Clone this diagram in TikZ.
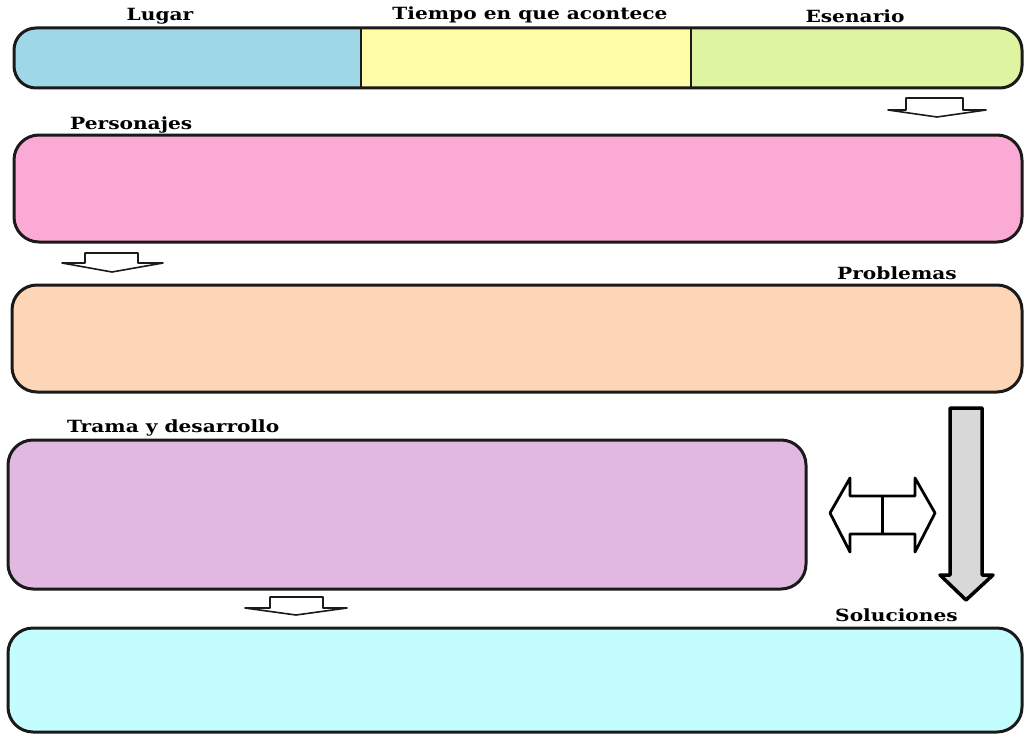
\documentclass[tikz,border=0pt]{standalone}
\usepackage{fontspec}
\usepackage{graphicx}
\newfontfamily\lblfont{DejaVu Serif}[BoldFont={DejaVu Serif Bold}]
\definecolor{cblue}{HTML}{9ED8E8}
\definecolor{cyel}{HTML}{FFFCA8}
\definecolor{cgreen}{HTML}{DFF4A0}
\definecolor{cpink}{HTML}{FBAAD6}
\definecolor{cpeach}{HTML}{FDD6B8}
\definecolor{cpurple}{HTML}{E0B8E0}
\definecolor{ccyan}{HTML}{C3FDFD}
\definecolor{cgrey}{HTML}{D8D8D8}
\definecolor{cline}{HTML}{1A1A1A}
\newcommand{\lbltext}[1]{\scalebox{1.2}[1]{\fontsize{16.8}{19}\lblfont\bfseries #1}}
\begin{document}
\begin{tikzpicture}[x=1pt,y=-1pt,
  lbl/.style={inner sep=0pt},
  bigbox/.style={draw=cline, line width=3pt, rounded corners=25pt, inner sep=0pt},
  smallarrow/.style={draw=cline, line width=1.6pt, fill=white, line join=round},
  bigarrow/.style={draw=black, line width=3.5pt, line join=round}]
\useasboundingbox (0,0) rectangle (1027,733);
\fill[white] (0,0) rectangle (1027,733);
% top bar
\begin{scope}
\clip[rounded corners=22pt] (14,28) rectangle (1022,88);
\fill[cblue] (14,28) rectangle (361,88);
\fill[cyel] (361,28) rectangle (691,88);
\fill[cgreen] (691,28) rectangle (1022,88);
\end{scope}
\draw[draw=cline, line width=3pt, rounded corners=22pt] (14,28) rectangle (1022,88);
\coordinate (d1t) at (361,28); \coordinate (d1b) at (361,88);
\coordinate (d2t) at (691,28); \coordinate (d2b) at (691,88);
\draw[cline, line width=2.8pt] (d1t) -- (d1b);
\draw[cline, line width=2.8pt] (d2t) -- (d2b);
\node[lbl] (lugar) at (160,16) {\lbltext{Lugar}};
\node[lbl] (tiempo) at (530,15) {\lbltext{Tiempo en que acontece}};
\node[lbl] (esc) at (855,16) {\lbltext{Esenario}};
% boxes
\node[bigbox, fill=cpink, minimum width=1008pt, minimum height=107pt] (pers) at (518,188.5) {};
\node[lbl, anchor=west] (lpers) at (70,125) {\lbltext{Personajes}};
\node[bigbox, fill=cpeach, minimum width=1010pt, minimum height=107pt] (prob) at (517,338.5) {};
\node[lbl, anchor=west] (lprob) at (837,273) {\lbltext{Problemas}};
\node[bigbox, fill=cpurple, minimum width=798pt, minimum height=149pt] (trama) at (407,514.5) {};
\node[lbl, anchor=west] (ltrama) at (67,428) {\lbltext{Trama y desarrollo}};
\node[bigbox, fill=ccyan, minimum width=1014pt, minimum height=104pt] (sol) at (515,680) {};
\node[lbl, anchor=west] (lsol) at (835,615) {\lbltext{Soluciones}};
% small arrows
\draw[smallarrow] (888,110) -- (906,110) -- (906,98) -- (963,98) -- (963,110) -- (986,110) -- (937,117) -- cycle;
\draw[smallarrow] (62,263) -- (85,263) -- (85,253) -- (138,253) -- (138,263) -- (163,263) -- (112,272) -- cycle;
\draw[smallarrow] (245,608) -- (270,608) -- (270,597) -- (323,597) -- (323,608) -- (347,608) -- (296,615) -- cycle;
% double arrow
\draw[bigarrow, line width=2.8pt, fill=white] (830,513) -- (850,478) -- (850,496) -- (915,496) -- (915,478) -- (935,513) -- (915,552) -- (915,534) -- (850,534) -- (850,552) -- cycle;
\coordinate (dvt) at (882,496); \coordinate (dvb) at (882,534);
\draw[black, line width=3pt] (dvt) -- (dvb);
% big grey arrow
\draw[bigarrow, fill=cgrey] (950,408) -- (982,408) -- (982,575) -- (993,575) -- (966,600) -- (940,575) -- (950,575) -- cycle;
\end{tikzpicture}
\end{document}
